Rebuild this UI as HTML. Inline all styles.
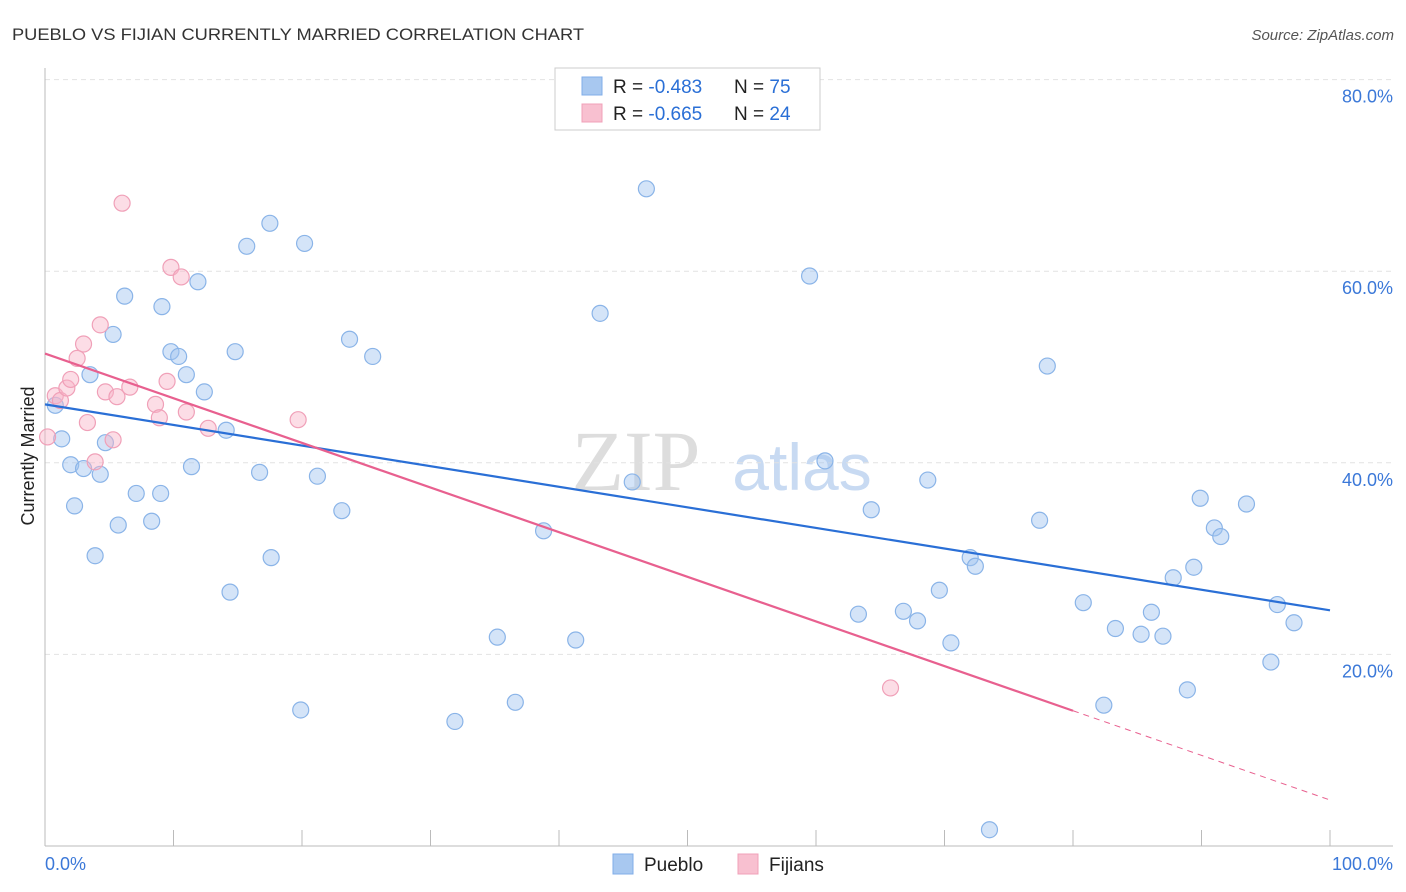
<!DOCTYPE html>
<html><head><meta charset="utf-8">
<style>
body{margin:0;background:#fff;font-family:"Liberation Sans",sans-serif;}
svg{display:block}
</style></head>
<body>
<svg id="chart" width="1406" height="892">
<text x="12" y="40" font-size="17" fill="#333" textLength="572" lengthAdjust="spacingAndGlyphs">PUEBLO VS FIJIAN CURRENTLY MARRIED CORRELATION CHART</text>
<text x="1394" y="40" font-size="15" fill="#555" font-style="italic" text-anchor="end">Source: ZipAtlas.com</text>
<g>
<text x="636" y="490" font-size="86" fill="#ddd" font-family="Liberation Serif,serif" text-anchor="middle">ZIP</text>
<text x="802" y="490" font-size="66" fill="#c8daf2" text-anchor="middle">atlas</text>
</g>
<g id="grid"></g>
<g id="axes"></g>
<g id="marks"></g>
<text transform="translate(34,456) rotate(-90)" font-size="18" fill="#222" text-anchor="middle">Currently Married</text>
<g>
<rect x="555" y="68" width="265" height="62" fill="#fff" stroke="#ccc"/>
<rect x="582" y="77" width="20" height="18" fill="#a8c8f0" stroke="#80aee8"/>
<rect x="582" y="104" width="20" height="18" fill="#f8c0d0" stroke="#f0a0b8"/>
<text x="613" y="93" font-size="19" fill="#222">R = <tspan fill="#2a6fd6">-0.483</tspan></text>
<text x="734" y="93" font-size="19" fill="#222">N = <tspan fill="#2a6fd6">75</tspan></text>
<text x="613" y="120" font-size="19" fill="#222">R = <tspan fill="#2a6fd6">-0.665</tspan></text>
<text x="734" y="120" font-size="19" fill="#222">N = <tspan fill="#2a6fd6">24</tspan></text>
</g>
<g>
<rect x="613" y="854" width="20" height="20" fill="#a8c8f0" stroke="#80aee8"/>
<text x="644" y="871" font-size="19" fill="#222">Pueblo</text>
<rect x="738" y="854" width="20" height="20" fill="#f8c0d0" stroke="#f0a0b8"/>
<text x="769" y="871" font-size="19" fill="#222">Fijians</text>
</g>
</svg>
<script>
const blueX=[0.8,1.3,2.0,2.3,3.0,3.5,3.9,4.3,4.7,5.3,5.7,6.2,7.1,8.3,9.0,9.1,9.8,10.4,11.0,11.4,11.9,12.4,14.1,14.4,14.8,15.7,16.7,17.5,17.6,19.9,20.2,21.2,23.1,23.7,25.5,31.9,35.2,36.6,38.8,41.3,43.2,45.7,46.8,59.5,60.7,63.3,64.3,66.8,67.9,68.7,69.6,70.5,72.0,72.4,73.5,77.4,78.0,80.8,82.4,83.3,85.3,86.1,87.0,87.8,88.9,89.4,89.9,91.0,91.5,93.5,95.4,95.9,97.2];
const blueY=[46.0,42.5,39.8,35.5,39.4,49.2,30.3,38.8,42.1,53.4,33.5,57.4,36.8,33.9,36.8,56.3,51.6,51.1,49.2,39.6,58.9,47.4,43.4,26.5,51.6,62.6,39.0,65.0,30.1,14.2,62.9,38.6,35.0,52.9,51.1,13.0,21.8,15.0,32.9,21.5,55.6,38.0,68.6,59.5,40.2,24.2,35.1,24.5,23.5,38.2,26.7,21.2,30.1,29.2,1.7,34.0,50.1,25.4,14.7,22.7,22.1,24.4,21.9,28.0,16.3,29.1,36.3,33.2,32.3,35.7,19.2,25.2,23.3];
const pinkX=[0.2,0.8,1.2,1.7,2.0,2.5,3.0,3.3,3.9,4.3,4.7,5.3,5.6,6.0,6.6,8.6,8.9,9.5,9.8,10.6,11.0,12.7,19.7,65.8];
const pinkY=[42.7,47.0,46.5,47.8,48.7,50.9,52.4,44.2,40.1,54.4,47.4,42.4,46.9,67.1,47.9,46.1,44.7,48.5,60.4,59.4,45.3,43.6,44.5,16.5];
const blueTrend=[46.1,24.6];
const pinkTrend=[51.4,4.8];
const pinkSolidEnd=80;
const yTicks=[20,40,60,80];
const yTickLabels=["20.0%","40.0%","60.0%","80.0%"];
const xTickVals=[0,10,20,30,40,50,60,70,80,90,100];

const NS="http://www.w3.org/2000/svg";
const X=v=>45+v*12.85, Y=v=>846-v*9.58;
function mk(t,a,p){const e=document.createElementNS(NS,t);for(const k in a)e.setAttribute(k,a[k]);p.appendChild(e);return e;}
const grid=document.getElementById('grid'),axes=document.getElementById('axes'),marks=document.getElementById('marks');
yTicks.forEach((v,i)=>{
 const l=mk('line',{x1:45,x2:1393,y1:Y(v),y2:Y(v),stroke:'#e2e2e2','stroke-dasharray':'5,4'},grid);
 
 
 const t=mk('text',{x:1393,y:Y(v)+23,'font-size':18,fill:'#3b78d8','text-anchor':'end'},axes);
 t.textContent=yTickLabels[i];
 
 
});
const ya=mk('line',{x1:45,x2:45,y1:68,y2:846,stroke:'#bbb'},axes);


const xa=mk('line',{x1:45,x2:1393,y1:846,y2:846,stroke:'#bbb'},axes);


xTickVals.forEach(v=>{const t=mk('line',{x1:X(v),x2:X(v),y1:830,y2:846,stroke:'#bbb'},axes);
 
 });
let t0=mk('text',{x:45,y:870,'font-size':18,fill:'#3b78d8'},axes);t0.textContent='0.0%';


let t1=mk('text',{x:1393,y:870,'font-size':18,fill:'#3b78d8','text-anchor':'end'},axes);t1.textContent='100.0%';



blueX.forEach((x,i)=>{const c=mk('circle',{cx:X(x),cy:Y(blueY[i]),r:8,fill:'rgba(160,195,240,0.45)',stroke:'#8ab4e8','stroke-width':1.2},marks);
 
 });
pinkX.forEach((x,i)=>{const c=mk('circle',{cx:X(x),cy:Y(pinkY[i]),r:8,fill:'rgba(248,180,200,0.45)',stroke:'#f0a0b8','stroke-width':1.2},marks);
 
 });
const bl=mk('line',{x1:X(0),y1:Y(blueTrend[0]),x2:X(100),y2:Y(blueTrend[1]),stroke:'#2a6fd6','stroke-width':2.2},marks);


const pAt=v=>pinkTrend[0]+(pinkTrend[1]-pinkTrend[0])*v/100;
const pl=mk('line',{x1:X(0),y1:Y(pinkTrend[0]),x2:X(pinkSolidEnd),y2:Y(pAt(pinkSolidEnd)),stroke:'#e8608f','stroke-width':2.2},marks);


const pd=mk('line',{x1:X(pinkSolidEnd),y1:Y(pAt(pinkSolidEnd)),x2:X(100),y2:Y(pinkTrend[1]),stroke:'#e8608f','stroke-width':1,'stroke-dasharray':'6,5'},marks);


</script>
</body></html>
